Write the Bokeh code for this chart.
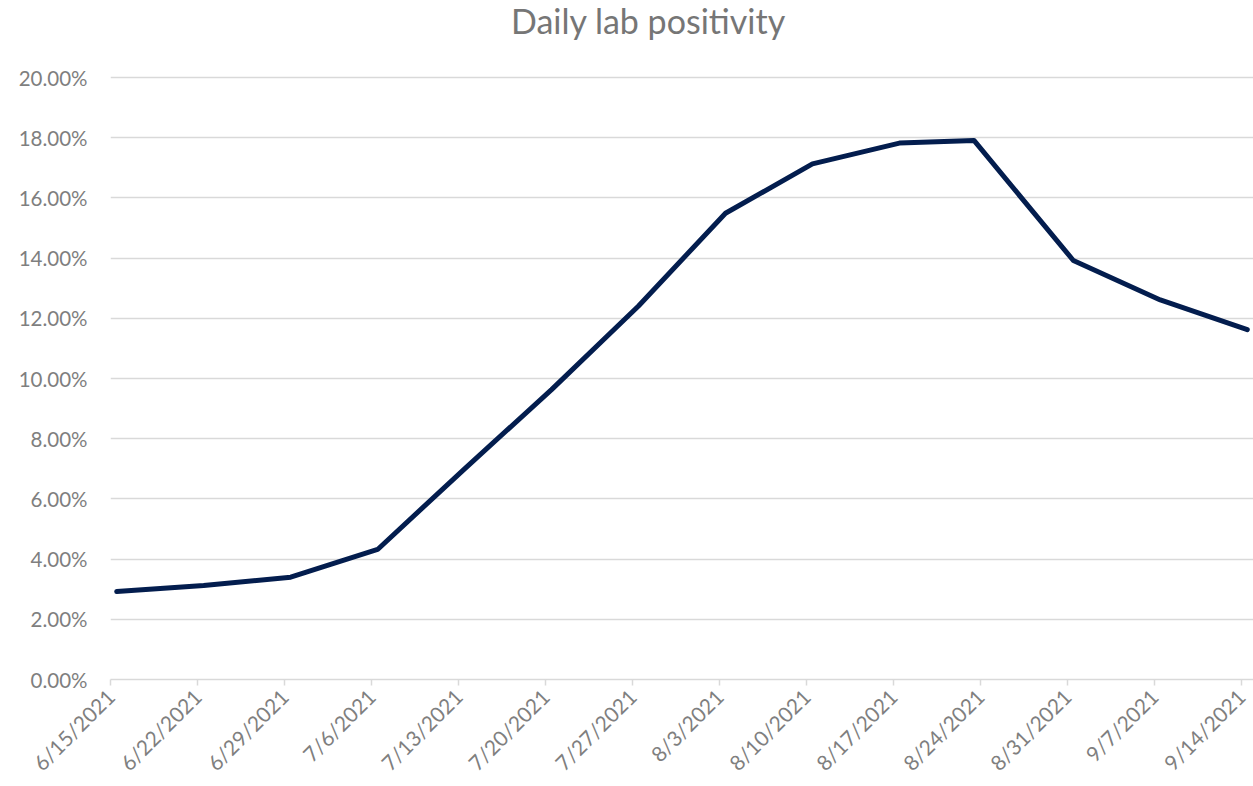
import math
from datetime import datetime, timedelta
from bokeh.plotting import figure
from bokeh.models import (ColumnDataSource, NumeralTickFormatter, FixedTicker,
                          CustomJSTickFormatter, Range1d, Label)
from bokeh.embed import file_html
from bokeh.resources import INLINE

# ---- data ----
dates = ["2021-06-15", "2021-06-22", "2021-06-29", "2021-07-06", "2021-07-13",
         "2021-07-20", "2021-07-27", "2021-08-03", "2021-08-10", "2021-08-17",
         "2021-08-23", "2021-08-31", "2021-09-07", "2021-09-14"]
positivity = [0.0292, 0.0312, 0.0340, 0.0432, 0.0700, 0.0963, 0.1241, 0.1549,
              0.1713, 0.1782, 0.1791, 0.1392, 0.1261, 0.1162]
tick_dates = ["2021-06-15", "2021-06-22", "2021-06-29", "2021-07-06", "2021-07-13",
              "2021-07-20", "2021-07-27", "2021-08-03", "2021-08-10", "2021-08-17",
              "2021-08-24", "2021-08-31", "2021-09-07", "2021-09-14"]
y_ticks = [0.00, 0.02, 0.04, 0.06, 0.08, 0.10, 0.12, 0.14, 0.16, 0.18, 0.20]
title_text = "Daily lab positivity"

FONT = "Lato"
TEXT_COLOR = "#7f7f7f"
GRID_COLOR = "#d9d9d9"
LINE_COLOR = "#031d4e"

W, H = 1253, 786
LEFT, BOTTOM = 110, 107
AXIS_Y = H - BOTTOM          # pixel row of 0 %
TOP_GRID_Y = 77              # pixel row of 20 %
# the frame reaches the top of the canvas so the title can live inside it
y_max = 0.20 * AXIS_Y / (AXIS_Y - TOP_GRID_Y)

# Excel date axis: each daily point sits at the middle of its day
xs = [datetime.fromisoformat(d) + timedelta(hours=12) for d in dates]
src = ColumnDataSource(dict(x=xs, y=positivity))

def ms(d):
    return (datetime.fromisoformat(d) - datetime(1970, 1, 1)).total_seconds() * 1000.0

x_start = ms(tick_dates[0])
x_end = ms(tick_dates[-1]) + 86400000.0

p = figure(width=W, height=H, x_axis_type="datetime",
           x_range=Range1d(x_start, x_end), y_range=Range1d(0, y_max),
           output_backend="svg", toolbar_location=None,
           min_border_left=LEFT, min_border_right=0, min_border_top=0,
           min_border_bottom=BOTTOM)
p.title = None

p.line("x", "y", source=src, line_color=LINE_COLOR, line_width=5,
       line_cap="round", line_join="round")

# chart title (screen units measured from the frame's bottom-left corner)
p.add_layout(Label(x=648 - LEFT, y=AXIS_Y - 20, x_units="screen", y_units="screen",
                   text=title_text, text_align="center", text_baseline="alphabetic",
                   text_font=FONT, text_font_size="34px", text_color="#767676"))

p.outline_line_color = None
p.background_fill_color = "white"
p.border_fill_color = "white"

# y axis
p.yaxis.ticker = FixedTicker(ticks=y_ticks)
p.yaxis.formatter = NumeralTickFormatter(format="0.00%")
p.yaxis.axis_line_color = None
p.yaxis.major_tick_line_color = None
p.yaxis.major_tick_out = 0
p.yaxis.major_tick_in = 0
p.yaxis.minor_tick_line_color = None
p.yaxis.major_label_standoff = 23
p.yaxis.major_label_text_font = FONT
p.yaxis.major_label_text_font_size = "20.5px"
p.yaxis.major_label_text_color = TEXT_COLOR

# x axis
p.xaxis.ticker = FixedTicker(ticks=[ms(d) for d in tick_dates])
p.xaxis.formatter = CustomJSTickFormatter(code="""
    const d = new Date(tick);
    return (d.getUTCMonth() + 1) + "/" + d.getUTCDate() + "/" + d.getUTCFullYear();
""")
p.xaxis.axis_line_color = GRID_COLOR
p.xaxis.axis_line_width = 1.5
p.xaxis.major_tick_line_color = GRID_COLOR
p.xaxis.major_tick_line_width = 1.5
p.xaxis.major_tick_out = 6
p.xaxis.major_tick_in = 0
p.xaxis.minor_tick_line_color = None
p.xaxis.major_label_orientation = math.pi / 4
p.xaxis.major_label_standoff = 7
p.xaxis.major_label_text_font = FONT
p.xaxis.major_label_text_font_size = "21px"
p.xaxis.major_label_text_color = TEXT_COLOR

p.xgrid.grid_line_color = None
p.ygrid.grid_line_color = GRID_COLOR
p.ygrid.grid_line_width = 1.5

open("out.html", "w").write(file_html(p, INLINE))
